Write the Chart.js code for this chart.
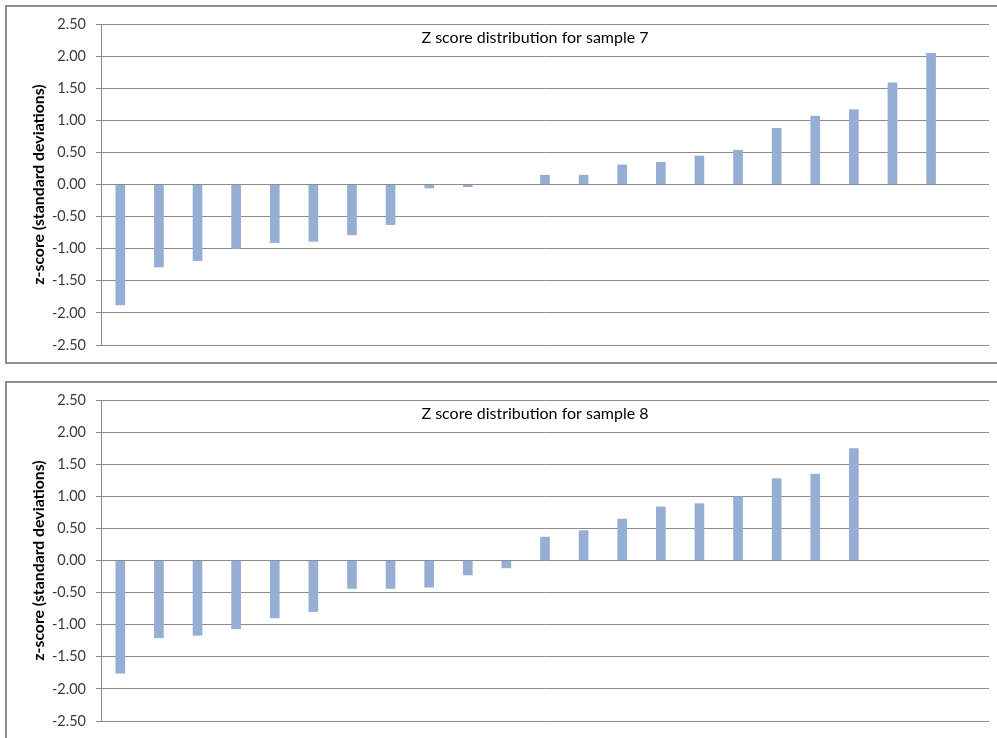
<!DOCTYPE html>
<html>
<head>
<meta charset="utf-8">
<script src="https://cdn.jsdelivr.net/npm/chart.js@4.4.1/dist/chart.umd.min.js"></script>
<style>
  html, body { margin: 0; padding: 0; background: #fff; overflow: hidden; width: 997px; height: 738px; }
  .frame { position: absolute; box-sizing: border-box; border: 2px solid #8e8e8e; background: #fff; }
  canvas { position: absolute; left: 0; }
</style>
</head>
<body>
<div class="frame" style="left:5px; top:5px; width:1000px; height:359px;"></div>
<div class="frame" style="left:5px; top:381px; width:1000px; height:400px;"></div>
<canvas id="c7" width="997" height="370" style="top:0px;"></canvas>
<canvas id="c8" width="997" height="370" style="top:376px;"></canvas>
<script>
// ---- data ----
const categories = ['1','2','3','4','5','6','7','8','9','10','11','12','13','14','15','16','17','18','19','20','21','22','23'];
const sample7 = [-1.88, -1.29, -1.19, -1.00, -0.91, -0.89, -0.79, -0.63, -0.06, -0.04, 0.00,
                 0.15, 0.15, 0.31, 0.35, 0.45, 0.54, 0.88, 1.07, 1.17, 1.59, 2.05, null];
const sample8 = [-1.76, -1.21, -1.17, -1.07, -0.90, -0.80, -0.44, -0.44, -0.42, -0.23, -0.12,
                 0.37, 0.47, 0.65, 0.84, 0.89, 1.00, 1.28, 1.35, 1.75, null, null, null];
const title7 = 'Z score distribution for sample 7';
const title8 = 'Z score distribution for sample 8';
const yAxisTitle = 'z-score (standard deviations)';
const yMin = -2.5, yMax = 2.5, yStep = 0.5;

const inPlotTitle = {
  id: 'inPlotTitle',
  afterDraw(chart, args, opts) {
    const { ctx, chartArea } = chart;
    ctx.save();
    ctx.font = '16px Lato';
    ctx.fillStyle = '#000';
    ctx.textAlign = 'center';
    ctx.textBaseline = 'alphabetic';
    ctx.fillText(opts.text, chartArea.left + 434, chartArea.top + 19);
    ctx.restore();
  }
};

function makeChart(id, values, titleText) {
  return new Chart(document.getElementById(id), {
    type: 'bar',
    data: {
      labels: categories,
      datasets: [{
        data: values,
        backgroundColor: '#96ADD4',
        borderWidth: 0,
        categoryPercentage: 1.0,
        barPercentage: 0.25
      }]
    },
    options: {
      responsive: false,
      animation: false,
      devicePixelRatio: 1,
      layout: { padding: { top: 24, bottom: 25, left: 0, right: 8 } },
      plugins: {
        legend: { display: false },
        tooltip: { enabled: false },
        title: { display: false },
        inPlotTitle: { text: titleText }
      },
      scales: {
        x: { display: false },
        y: {
          min: yMin, max: yMax,
          ticks: {
            stepSize: yStep,
            callback: v => Number(v).toFixed(2),
            color: '#3a3a3a',
            font: { family: 'Lato', size: 14.5 },
            padding: 10
          },
          grid: { color: '#8c8c8c', tickLength: 5, drawTicks: true, lineWidth: 1 },
          border: { display: true, color: '#8c8c8c', width: 1 },
          title: {
            display: true,
            text: yAxisTitle,
            color: '#000',
            font: { family: 'Lato', size: 15.8, weight: 'bold' },
            padding: { top: 29.5, bottom: 0 }
          },
          afterFit: s => { s.width = 101; }
        }
      }
    },
    plugins: [inPlotTitle]
  });
}

const go = () => { makeChart('c7', sample7, title7); makeChart('c8', sample8, title8); };
if (document.fonts && document.fonts.load) {
  Promise.all([document.fonts.load('14px Lato'), document.fonts.load('bold 14px Lato'), document.fonts.load('16px Lato')])
    .then(go, go);
} else { go(); }
</script>
</body>
</html>
